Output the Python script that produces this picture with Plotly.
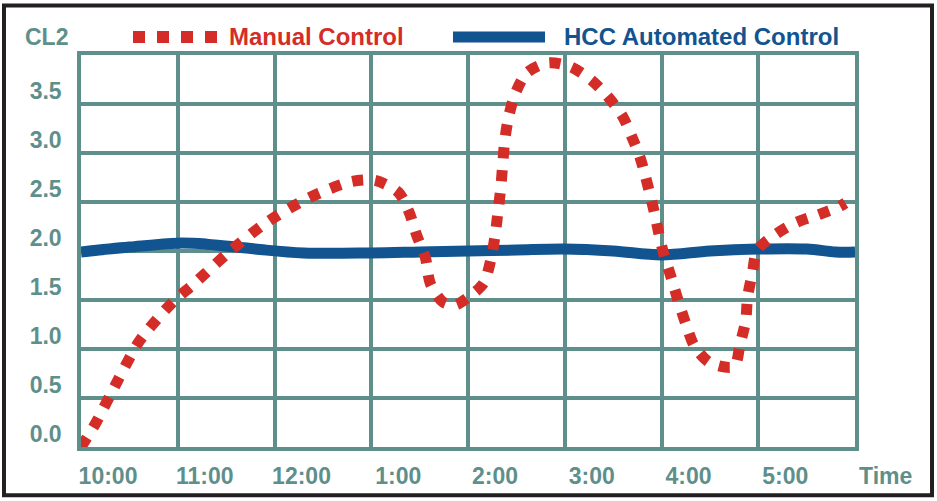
import plotly.graph_objects as go

# hours after 10:00
manual_x = [0.00, 0.15, 0.37, 0.61, 0.95, 1.15, 1.52, 1.90, 2.35, 2.80, 3.04, 3.28, 3.39, 3.47,
            3.56, 3.61, 3.74, 3.87, 3.99, 4.16, 4.24, 4.28, 4.31, 4.34, 4.36, 4.38, 4.42, 4.49,
            4.61, 4.83, 5.06, 5.28, 5.45, 5.60, 5.70, 5.78, 5.92, 5.97, 6.02, 6.10, 6.17, 6.25,
            6.34, 6.50, 6.75, 6.81, 6.87, 6.89, 6.94, 6.99, 7.18, 7.39, 7.62, 7.83, 7.90]
manual_y = [0.00, 0.24, 0.66, 1.09, 1.48, 1.65, 1.98, 2.28, 2.54, 2.71, 2.72, 2.60, 2.40, 2.16,
            1.93, 1.67, 1.48, 1.45, 1.52, 1.67, 1.93, 2.16, 2.40, 2.66, 2.90, 3.13, 3.37, 3.61,
            3.82, 3.92, 3.88, 3.74, 3.57, 3.37, 3.15, 2.95, 2.42, 2.19, 1.98, 1.73, 1.50, 1.26,
            1.03, 0.86, 0.82, 1.04, 1.29, 1.53, 1.78, 2.01, 2.17, 2.29, 2.37, 2.45, 2.49]

hcc_x = [0.0, 0.5, 1.0, 1.3, 1.8, 2.3, 3.0, 3.5, 4.0, 4.5, 5.0, 5.5, 6.0, 6.5, 7.0, 7.5, 7.8, 8.0]
hcc_y = [1.99, 2.04, 2.08, 2.07, 2.02, 1.98, 1.98, 1.99, 2.00, 2.01, 2.02, 2.00, 1.96, 2.00, 2.02, 2.02, 1.99, 1.99]

x_tickvals = [0, 1, 2, 3, 4, 5, 6, 7]
x_ticklabels = ["10:00", "11:00", "12:00", "1:00", "2:00", "3:00", "4:00", "5:00"]
y_tickvals = [0, 0.5, 1.0, 1.5, 2.0, 2.5, 3.0, 3.5]
y_ticklabels = ["0.0", "0.5", "1.0", "1.5", "2.0", "2.5", "3.0", "3.5"]

RED = "#d42d27"
BLUE = "#11548f"
TEAL = "#5e8f8a"
FONT = "Liberation Sans, Arial, sans-serif"

fig = go.Figure()
fig.add_trace(go.Scatter(x=hcc_x, y=hcc_y, mode="lines", name="HCC Automated Control",
                         line=dict(color=BLUE, width=11, shape="spline", smoothing=1.0)))
fig.add_trace(go.Scatter(x=manual_x, y=manual_y, mode="lines", name="Manual Control",
                         line=dict(color=RED, width=11, dash="11px,12px", shape="spline", smoothing=0.8)))

tick_font = dict(family=FONT, size=23, color=TEAL, weight="bold")
fig.update_layout(
    width=937, height=501,
    margin=dict(l=81, r=82, t=55, b=54),
    paper_bgcolor="white", plot_bgcolor="white",
    showlegend=False,
    xaxis=dict(range=[0, 8], tickvals=x_tickvals, ticktext=x_ticklabels,
               showgrid=True, gridcolor=TEAL, gridwidth=3.5, zeroline=False,
               showline=True, linecolor=TEAL, linewidth=3.5, mirror=True,
               ticks="", tickfont=tick_font, ticklabelshift=27, ticklabelstandoff=6),
    yaxis=dict(range=[0, 4], tickvals=y_tickvals, ticktext=y_ticklabels,
               showgrid=True, gridcolor=TEAL, gridwidth=3.5, zeroline=False,
               showline=True, linecolor=TEAL, linewidth=3.5, mirror=True,
               ticks="", tickfont=tick_font, ticklabelshift=-13, ticklabelstandoff=11),
)

shapes = [
    # outer border
    dict(type="rect", xref="paper", yref="paper",
         x0=-0.0995, x1=1.0995, y0=-0.123, y1=1.1265,
         line=dict(color="#231f20", width=4)),
    # legend samples
    dict(type="line", xref="paper", yref="paper", x0=0.0672, x1=0.1770, y0=1.046, y1=1.046,
         line=dict(color=RED, width=12, dash="12px,12px")),
    dict(type="line", xref="paper", yref="paper", x0=0.4806, x1=0.5995, y0=1.046, y1=1.046,
         line=dict(color=BLUE, width=11)),
]
fig.update_layout(shapes=shapes)

annotations = [
    dict(text="<b>Manual Control</b>", xref="paper", yref="paper", x=0.1885, y=1.046,
         xanchor="left", yanchor="middle", showarrow=False,
         font=dict(family=FONT, size=24, color=RED)),
    dict(text="<b>HCC Automated Control</b>", xref="paper", yref="paper", x=0.621, y=1.046,
         xanchor="left", yanchor="middle", showarrow=False,
         font=dict(family=FONT, size=24, color=BLUE)),
    dict(text="<b>CL2</b>", xref="paper", yref="paper", x=-0.0452, y=1.046,
         xanchor="center", yanchor="middle", showarrow=False,
         font=dict(family=FONT, size=23, color=TEAL)),
    dict(text="<b>Time</b>", xref="paper", yref="paper", x=1.0388, y=-0.074,
         xanchor="center", yanchor="middle", showarrow=False,
         font=dict(family=FONT, size=23, color=TEAL)),
]
fig.update_layout(annotations=annotations)

fig.write_html("out.html",
               config={"displayModeBar": False},
               post_script="document.body.style.margin='0';document.body.style.overflow='hidden';")
